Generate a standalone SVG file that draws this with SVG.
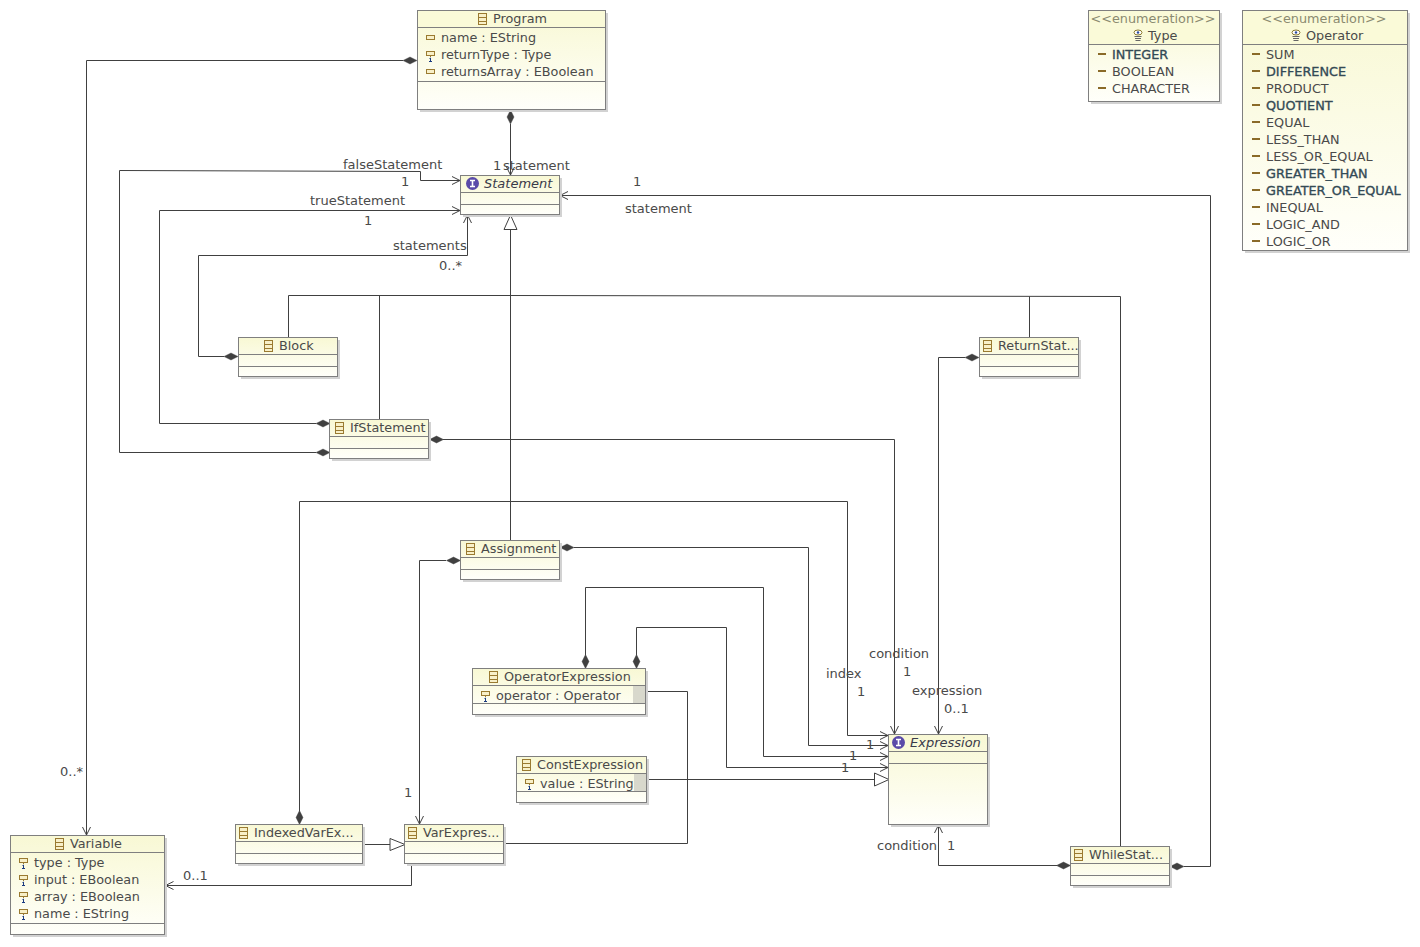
<svg xmlns="http://www.w3.org/2000/svg" xmlns:xlink="http://www.w3.org/1999/xlink" width="1420" height="947" viewBox="0 0 1420 947">
<style>
text{font-family:"DejaVu Sans","Liberation Sans",sans-serif;font-size:12.8px;fill:#4a4a4a}
#labels text{font-size:13px}
.t{text-anchor:middle}
.i{font-style:italic;font-size:13px;fill:#3a3a4a}
.g{fill:#8a8a70}
.b{fill:#2f4a5a;stroke:#3a4a50;stroke-width:.35}
.box{fill:url(#bg);stroke:#7f7f7f;stroke-width:1}
.sh{fill:#d2d2d2}
.hd{fill:#fafad8}
.ln{stroke:#7f7f7f;stroke-width:1;fill:none}
.c{fill:none;stroke:#404040;stroke-width:1}
.d{fill:#404040;stroke:#404040;stroke-width:.4}
.o{fill:none;stroke:#404040;stroke-width:1}
.tri{fill:#fff;stroke:#404040;stroke-width:1}
.side{fill:#d8d8cc}
</style>
<defs>
<linearGradient id="bg" x1="0" y1="0" x2="0" y2="1"><stop offset="0" stop-color="#f8f8d4"/><stop offset="1" stop-color="#fffffa"/></linearGradient>
<g id="cls"><rect x=".5" y=".5" width="8" height="11" fill="#f8f0c8" stroke="#9a7a30"/><path d="M0 4.500H9M0 8.500H9" stroke="#9a7a30" fill="none"/></g>
<g id="attr"><rect x=".5" y=".5" width="8" height="4" fill="#f8f0c8" stroke="#9a7a30"/></g>
<g id="attr1"><rect x=".5" y=".5" width="8" height="4" fill="#f8f0c8" stroke="#9a7a30"/><path d="M4.500 5V6" stroke="#9a7a30"/><path d="M3.500 7.500L4.500 7V10.500M3 10.500H6" stroke="#1a3a80" fill="none"/></g>
<g id="lit"><rect x="0" y="0" width="8" height="2" fill="#8a6a28"/></g>
<g id="enum"><ellipse cx="5" cy="2.500" rx="4" ry="2.500" fill="#fff" stroke="#8a7a30"/><circle cx="5" cy="2.500" r="1.200" fill="#2a4aa0"/><path d="M1.500 6.500H8.500M2 8.500H8M2.500 10.500H7.500" stroke="#666"/></g>
<g id="ifc"><circle cx="6.500" cy="6.500" r="6.500" fill="#5a4aa8"/><path d="M4 3.500H9M4 9.500H9M6.500 3.500V9.500" stroke="#fff" stroke-width="1.600"/></g>
<path id="dh" d="M0 0L7 -3.500L14 0L7 3.500Z"/>
<path id="dv" d="M0 0L3.500 7L0 14L-3.500 7Z"/>
</defs>

<g id="connectors">
<polyline class="c" points="403,60.500 86.500,60.500 86.500,835"/><use xlink:href="#dh" class="d" x="403" y="60.500"/><path class="o" d="M82.500,827L86.500,835L90.500,827"/>
<polyline class="c" points="510.500,124 510.500,175"/><use xlink:href="#dv" class="d" x="510.500" y="110"/><path class="o" d="M506.500,167L510.500,175L514.500,167"/>
<polyline class="c" points="316,452.500 119.500,452.500 119.500,170.500 420.500,171.500 420.500,180.500 460,180.500"/><use xlink:href="#dh" class="d" x="316" y="452.500"/><path class="o" d="M452,176.500L460,180.500L452,184.500"/>
<polyline class="c" points="316,423.500 159.500,423.500 159.500,210.500 460,210.500"/><use xlink:href="#dh" class="d" x="316" y="423.500"/><path class="o" d="M452,206.500L460,210.500L452,214.500"/>
<polyline class="c" points="224,356.500 198.500,356.500 198.500,255.500 467.500,255.500 467.500,215"/><use xlink:href="#dh" class="d" x="224" y="356.500"/><path class="o" d="M463.500,223L467.500,215L471.500,223"/>
<polyline class="c" points="1184,866.500 1210.500,866.500 1210.500,195.500 560,195.500"/><use xlink:href="#dh" class="d" x="1170" y="866.500"/><path class="o" d="M568,191.500L560,195.500L568,199.500"/>
<polyline class="c" points="510.500,540 510.500,229.500"/>
<path class="tri" d="M510.500,215L504,229.500L517,229.500Z"/>
<polyline class="c" points="288.500,337 288.500,295.500 510.500,295.500 1120.500,296.500 1120.500,846"/>
<polyline class="c" points="379.500,419 379.500,295.500"/>
<polyline class="c" points="1029.500,337 1029.500,296.500"/>
<polyline class="c" points="443,439.500 894.500,439.500 894.500,734"/><use xlink:href="#dh" class="d" x="429.500" y="439.500"/><path class="o" d="M890.500,726L894.500,734L898.500,726"/>
<polyline class="c" points="965,357.500 938.500,357.500 938.500,734"/><use xlink:href="#dh" class="d" x="965" y="357.500"/><path class="o" d="M934.500,726L938.500,734L942.500,726"/>
<polyline class="c" points="299.500,811 299.500,501.500 847.500,501.500 847.500,735.500 888,735.500"/><use xlink:href="#dv" class="d" x="299.500" y="810.500"/><path class="o" d="M880,731.500L888,735.500L880,739.500"/>
<polyline class="c" points="574,547.500 808.500,547.500 808.500,745.500 888,745.500"/><use xlink:href="#dh" class="d" x="560" y="547.500"/><path class="o" d="M880,741.500L888,745.500L880,749.500"/>
<polyline class="c" points="585.500,655 585.500,587.500 763.500,587.500 763.500,756.500 888,756.500"/><use xlink:href="#dv" class="d" x="585.500" y="654.500"/><path class="o" d="M880,752.500L888,756.500L880,760.500"/>
<polyline class="c" points="636.500,655 636.500,627.500 726.500,627.500 726.500,767.500 888,767.500"/><use xlink:href="#dv" class="d" x="636.500" y="654.500"/><path class="o" d="M880,763.500L888,767.500L880,771.500"/>
<polyline class="c" points="646,691.500 687.500,691.500 687.500,843.500 504,843.500"/>
<polyline class="c" points="647,779.500 874.500,779.500"/><path class="tri" d="M889,779.500L874.500,773L874.500,786Z"/>
<polyline class="c" points="363,844.500 390,844.500"/><path class="tri" d="M405,844.500L390,838.500L390,850.500Z"/>
<polyline class="c" points="446,560.500 419.500,560.500 419.500,824"/><use xlink:href="#dh" class="d" x="446.500" y="560.500"/><path class="o" d="M415.500,816L419.500,824L423.500,816"/>
<polyline class="c" points="411.500,864 411.500,885.500 165.500,885.500"/><path class="o" d="M173.500,881.500L165.500,885.500L173.500,889.500"/>
<polyline class="c" points="1057,865.500 938.500,865.500 938.500,825"/><use xlink:href="#dh" class="d" x="1056.500" y="865.500"/><path class="o" d="M934.500,833L938.500,825L942.500,833"/>
</g>

<g id="labels">
<text x="343" y="169">falseStatement</text>
<text x="401" y="186">1</text>
<text x="310" y="205">trueStatement</text>
<text x="364" y="225">1</text>
<text x="393" y="250">statements</text>
<text x="439" y="270">0..*</text>
<text x="493" y="170">1</text>
<text x="503" y="170">statement</text>
<text x="633" y="186">1</text>
<text x="625" y="213">statement</text>
<text x="869" y="658">condition</text>
<text x="903" y="676">1</text>
<text x="826" y="678">index</text>
<text x="857" y="696">1</text>
<text x="912" y="695">expression</text>
<text x="944" y="713">0..1</text>
<text x="866" y="749">1</text>
<text x="849" y="760">1</text>
<text x="841" y="772">1</text>
<text x="60" y="776">0..*</text>
<text x="404" y="797">1</text>
<text x="183" y="880">0..1</text>
<text x="877" y="850">condition</text>
<text x="947" y="850">1</text>
</g>

<g id="Program">
<rect class="sh" x="420" y="13" width="188" height="99"/>
<rect class="box" x="417.500" y="10.500" width="188" height="99"/>
<rect class="hd" x="418" y="11" width="187" height="16"/>
<path class="ln" d="M417.500 27.500H605.500M417.500 81.500H605.500"/>
<use xlink:href="#cls" x="478" y="13"/><text x="493" y="23">Program</text>
<use xlink:href="#attr" x="426" y="35"/><text x="441" y="42">name : EString</text>
<use xlink:href="#attr1" x="426" y="51"/><text x="441" y="59">returnType : Type</text>
<use xlink:href="#attr" x="426" y="69"/><text x="441" y="76">returnsArray : EBoolean</text>
</g>

<g id="Type">
<rect class="sh" x="1091" y="13" width="131" height="91"/>
<rect class="box" x="1088.500" y="10.500" width="131" height="91"/>
<rect class="hd" x="1089" y="11" width="130" height="33"/>
<path class="ln" d="M1088.500 44.500H1219.500"/>
<text class="t g" x="1153" y="23">&lt;&lt;enumeration&gt;&gt;</text>
<use xlink:href="#enum" x="1133" y="30"/><text x="1148" y="40">Type</text>
<use xlink:href="#lit" x="1098" y="53"/><text class="b" x="1112" y="59">INTEGER</text>
<use xlink:href="#lit" x="1098" y="70"/><text x="1112" y="76">BOOLEAN</text>
<use xlink:href="#lit" x="1098" y="87"/><text x="1112" y="93">CHARACTER</text>
</g>

<g id="Operator">
<rect class="sh" x="1245" y="13" width="165" height="240"/>
<rect class="box" x="1242.500" y="10.500" width="165" height="240"/>
<rect class="hd" x="1243" y="11" width="164" height="33"/>
<path class="ln" d="M1242.500 44.500H1407.500"/>
<text class="t g" x="1324" y="23">&lt;&lt;enumeration&gt;&gt;</text>
<use xlink:href="#enum" x="1291" y="30"/><text x="1306" y="40">Operator</text>
<use xlink:href="#lit" x="1252" y="53"/><text x="1266" y="59">SUM</text>
<use xlink:href="#lit" x="1252" y="70"/><text class="b" x="1266" y="76">DIFFERENCE</text>
<use xlink:href="#lit" x="1252" y="87"/><text x="1266" y="93">PRODUCT</text>
<use xlink:href="#lit" x="1252" y="104"/><text class="b" x="1266" y="110">QUOTIENT</text>
<use xlink:href="#lit" x="1252" y="121"/><text x="1266" y="127">EQUAL</text>
<use xlink:href="#lit" x="1252" y="138"/><text x="1266" y="144">LESS_THAN</text>
<use xlink:href="#lit" x="1252" y="155"/><text x="1266" y="161">LESS_OR_EQUAL</text>
<use xlink:href="#lit" x="1252" y="172"/><text class="b" x="1266" y="178">GREATER_THAN</text>
<use xlink:href="#lit" x="1252" y="189"/><text class="b" x="1266" y="195">GREATER_OR_EQUAL</text>
<use xlink:href="#lit" x="1252" y="206"/><text x="1266" y="212">INEQUAL</text>
<use xlink:href="#lit" x="1252" y="223"/><text x="1266" y="229">LOGIC_AND</text>
<use xlink:href="#lit" x="1252" y="240"/><text x="1266" y="246">LOGIC_OR</text>
</g>

<g id="Statement">
<rect class="sh" x="463" y="178" width="99" height="39"/>
<rect class="box" x="460.500" y="175.500" width="99" height="39"/>
<path class="ln" d="M460.500 192.500H559.500M460.500 204.500H559.500"/>
<use xlink:href="#ifc" x="466" y="177"/><text class="i" x="484" y="188">Statement</text>
</g>

<g id="Block">
<rect class="sh" x="241" y="340" width="99" height="39"/>
<rect class="box" x="238.500" y="337.500" width="99" height="39"/>
<path class="ln" d="M238.500 354.500H337.500M238.500 366.500H337.500"/>
<use xlink:href="#cls" x="264" y="340"/><text x="279" y="350">Block</text>
</g>

<g id="ReturnStatement">
<rect class="sh" x="982" y="340" width="99" height="39"/>
<rect class="box" x="979.500" y="337.500" width="99" height="39"/>
<path class="ln" d="M979.500 354.500H1078.500M979.500 366.500H1078.500"/>
<use xlink:href="#cls" x="983" y="340"/><text x="998" y="350">ReturnStat...</text>
</g>

<g id="IfStatement">
<rect class="sh" x="332" y="422" width="99" height="39"/>
<rect class="box" x="329.500" y="419.500" width="99" height="39"/>
<path class="ln" d="M329.500 436.500H428.500M329.500 448.500H428.500"/>
<use xlink:href="#cls" x="335" y="422"/><text x="350" y="432">IfStatement</text>
</g>

<g id="Assignment">
<rect class="sh" x="463" y="543" width="99" height="39"/>
<rect class="box" x="460.500" y="540.500" width="99" height="39"/>
<path class="ln" d="M460.500 557.500H559.500M460.500 569.500H559.500"/>
<use xlink:href="#cls" x="466" y="543"/><text x="481" y="553">Assignment</text>
</g>

<g id="OperatorExpression">
<rect class="sh" x="475" y="671" width="173" height="46"/>
<rect class="box" x="472.500" y="668.500" width="173" height="46"/>
<rect class="side" x="633" y="686" width="12" height="17"/>
<path class="ln" d="M472.500 685.500H645.500M472.500 703.500H645.500"/>
<use xlink:href="#cls" x="489" y="671"/><text x="504" y="681">OperatorExpression</text>
<use xlink:href="#attr1" x="481" y="691"/><text x="496" y="700">operator : Operator</text>
</g>

<g id="ConstExpression">
<rect class="sh" x="519" y="759" width="130" height="46"/>
<rect class="box" x="516.500" y="756.500" width="130" height="46"/>
<rect class="side" x="634" y="774" width="12" height="17"/>
<path class="ln" d="M516.500 773.500H646.500M516.500 791.500H646.500"/>
<use xlink:href="#cls" x="522" y="759"/><text x="537" y="769">ConstExpression</text>
<use xlink:href="#attr1" x="525" y="779"/><text x="540" y="788">value : EString</text>
</g>

<g id="Expression">
<rect class="sh" x="891" y="737" width="99" height="90"/>
<rect class="box" x="888.500" y="734.500" width="99" height="90"/>
<path class="ln" d="M888.500 751.500H987.500M888.500 763.500H987.500"/>
<use xlink:href="#ifc" x="892" y="736"/><text class="i" x="910" y="747">Expression</text>
</g>

<g id="Variable">
<rect class="sh" x="13" y="838" width="154" height="99"/>
<rect class="box" x="10.500" y="835.500" width="154" height="99"/>
<path class="ln" d="M10.500 852.500H164.500M10.500 923.500H164.500"/>
<use xlink:href="#cls" x="55" y="838"/><text x="70" y="848">Variable</text>
<use xlink:href="#attr1" x="19" y="858"/><text x="34" y="867">type : Type</text>
<use xlink:href="#attr1" x="19" y="875"/><text x="34" y="884">input : EBoolean</text>
<use xlink:href="#attr1" x="19" y="892"/><text x="34" y="901">array : EBoolean</text>
<use xlink:href="#attr1" x="19" y="909"/><text x="34" y="918">name : EString</text>
</g>

<g id="IndexedVarExpression">
<rect class="sh" x="238" y="827" width="127" height="39"/>
<rect class="box" x="235.500" y="824.500" width="127" height="39"/>
<path class="ln" d="M235.500 841.500H362.500M235.500 853.500H362.500"/>
<use xlink:href="#cls" x="239" y="827"/><text x="254" y="837">IndexedVarEx...</text>
</g>

<g id="VarExpression">
<rect class="sh" x="407" y="827" width="99" height="39"/>
<rect class="box" x="404.500" y="824.500" width="99" height="39"/>
<path class="ln" d="M404.500 841.500H503.500M404.500 853.500H503.500"/>
<use xlink:href="#cls" x="408" y="827"/><text x="423" y="837">VarExpres...</text>
</g>

<g id="WhileStatement">
<rect class="sh" x="1073" y="849" width="99" height="39"/>
<rect class="box" x="1070.500" y="846.500" width="99" height="39"/>
<path class="ln" d="M1070.500 863.500H1169.500M1070.500 875.500H1169.500"/>
<use xlink:href="#cls" x="1074" y="849"/><text x="1089" y="859">WhileStat...</text>
</g>
</svg>
